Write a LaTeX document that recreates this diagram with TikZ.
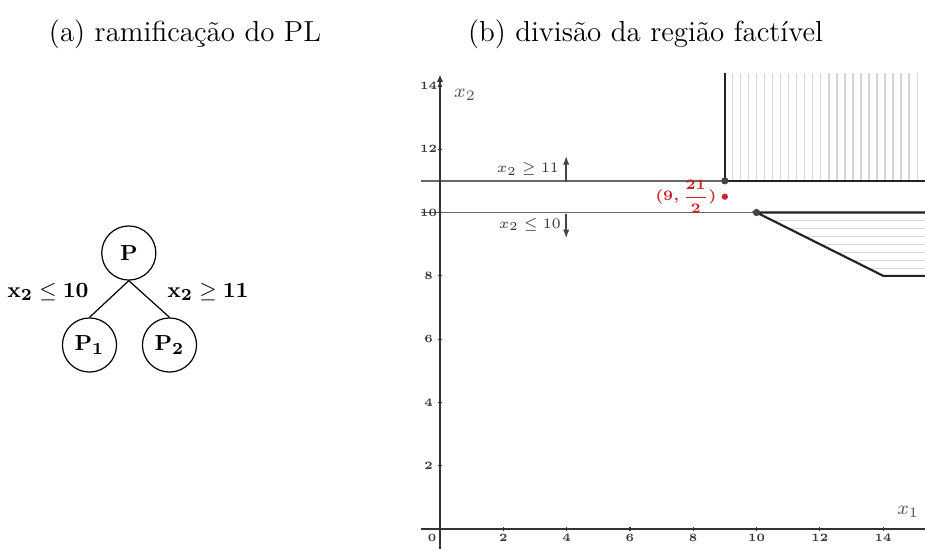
\documentclass[tikz,border=0pt]{standalone}
\usepackage{amsmath}
\usetikzlibrary{arrows.meta}
\definecolor{axisgray}{HTML}{333333}
\definecolor{linegray}{HTML}{666666}
\definecolor{regline}{HTML}{222222}
\definecolor{hatchgray}{HTML}{D6D6D6}
\definecolor{dotgray}{HTML}{444444}
\definecolor{ptred}{HTML}{CC2229}
\definecolor{lblgray}{HTML}{555555}
\tikzset{
  titletext/.style={anchor=base,font=\fontsize{12}{14}\selectfont},
  treenode/.style={draw,circle,line width=0.5pt,minimum size=22.4pt,inner sep=0pt,font=\fontsize{9.4}{11}\selectfont},
  treeedge/.style={line width=0.5pt},
  treelbl/.style={font=\fontsize{9.4}{11}\selectfont,inner sep=0pt},
  axisline/.style={draw=axisgray,line width=0.85pt},
  cutline/.style={draw=linegray,line width=0.6pt},
  regionline/.style={draw=regline,line width=0.85pt},
  hatchline/.style={draw=hatchgray,line width=0.45pt},
  ticklbl/.style={font=\fontsize{4.6}{5}\selectfont\bfseries,inner sep=0pt,text=axisgray},
  cutlbl/.style={font=\fontsize{6}{7}\selectfont,inner sep=0pt,text=axisgray},
  gdot/.style={circle,fill=dotgray,minimum size=3pt,inner sep=0pt},
  rdot/.style={circle,fill=ptred,minimum size=2.6pt,inner sep=0pt},
  axlbl/.style={font=\fontsize{8}{9}\selectfont,text=lblgray,inner sep=0pt},
  dirarrow/.style={draw=dotgray,line width=0.6pt,-{Latex[length=3.5pt,width=2.6pt]}}
}
\begin{document}
\begin{tikzpicture}[x=0.414pt,y=-0.414pt]
\useasboundingbox (0,0) rectangle (925,548);
% titles
\node[titletext] (ta) at (185,41) {(a) ramificação do PL};
\node[titletext] (tb) at (645.5,41) {(b) divisão da região factível};
% tree
\node[treenode] (P) at (128.8,253) {$\mathbf{P}$};
\node[treenode] (P1) at (89.5,345) {$\mathbf{P_1}$};
\node[treenode] (P2) at (169.5,345) {$\mathbf{P_2}$};
\draw[treeedge] (P.south) -- (P1.north);
\draw[treeedge] (P.south) -- (P2.north);
\node[treelbl] (l1) at (48,292) {$\mathbf{x_2\leq 10}$};
\node[treelbl] (l2) at (208,292) {$\mathbf{x_2\geq 11}$};
% graph
\begin{scope}[shift={(440,529)},xscale=31.65,yscale=-31.65]
  % hatching top region
  \foreach \i in {1,...,24} \draw[hatchline] ({9+\i*0.253},11) -- ({9+\i*0.253},14.41);
  % hatching bottom region
  \foreach \k in {1,...,7} \draw[hatchline] ({10+2*\k*0.253},{10-\k*0.253}) -- (15.4,{10-\k*0.253});
  % cut lines
  \draw[cutline] (-0.6,11) -- (15.4,11);
  \draw[cutline] (-0.6,10) -- (15.4,10);
  % axes
  \draw[axisline] (-0.6,0) -- (15.4,0);
  \draw[axisline,-{Latex[length=3pt,width=2.6pt]}] (0,-0.7) -- (0,14.36);
  \foreach \v in {2,4,...,14} {
    \draw[draw=axisgray,line width=0.5pt] (-0.06,\v) -- (0.06,\v);
    \draw[draw=axisgray,line width=0.5pt] (\v,-0.06) -- (\v,0.06);
    \node[ticklbl] at (-0.36,\v) {\v};
    \node[ticklbl] at (\v,-0.28) {\v};
  }
  \node[ticklbl] (zero) at (-0.25,-0.28) {0};
  % axis labels
  \node[axlbl] (x2) at (0.79,13.71) {$x_2$};
  \node[axlbl] (x1) at (14.79,0.54) {$x_1$};
  % direction arrows
  \coordinate (a11) at (4,11);
  \coordinate (a11e) at (4,11.82);
  \coordinate (a10) at (4,10);
  \coordinate (a10e) at (4,9.22);
  \draw[dirarrow] (a11) -- (a11e);
  \draw[dirarrow] (a10) -- (a10e);
  \node[cutlbl] (c1) at (2.78,11.38) {$x_2\geq 11$};
  \node[cutlbl] (c2) at (2.84,9.62) {$x_2\leq 10$};
  % region boundaries
  \draw[regionline] (9,14.41) -- (9,11) -- (15.4,11);
  \draw[regionline] (15.4,10) -- (10,10) -- (14,8) -- (15.4,8);
  % points
  \node[gdot] (A) at (9,11) {};
  \node[gdot] (B) at (10,10) {};
  \node[rdot] (C) at (9,10.5) {};
  \node[font=\fontsize{6}{7}\selectfont,text=ptred,anchor=east,inner sep=0pt] (Cl) at (8.75,10.5) {$\boldsymbol{(9,\dfrac{21}{2})}$};
\end{scope}
\end{tikzpicture}
\end{document}
